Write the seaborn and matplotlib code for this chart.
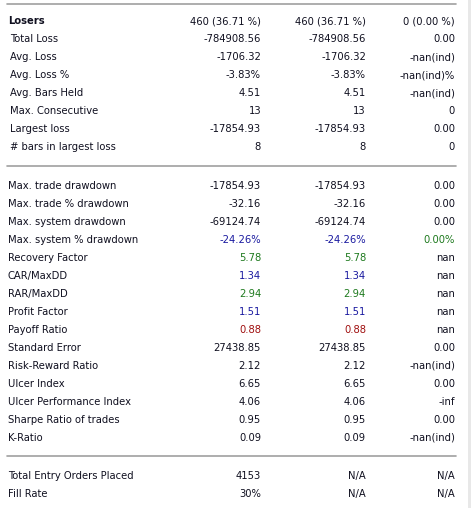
import seaborn as sns
import matplotlib.pyplot as plt

# Table content
section1_labels = ['Losers', 'Total Loss', 'Avg. Loss', 'Avg. Loss %', 'Avg. Bars Held',
                   'Max. Consecutive', 'Largest loss', '# bars in largest loss']
section1_all = ['460 (36.71 %)', '-784908.56', '-1706.32', '-3.83%', '4.51', '13', '-17854.93', '8']
section1_long = ['460 (36.71 %)', '-784908.56', '-1706.32', '-3.83%', '4.51', '13', '-17854.93', '8']
section1_short = ['0 (0.00 %)', '0.00', '-nan(ind)', '-nan(ind)%', '-nan(ind)', '0', '0.00', '0']

section2_labels = ['Max. trade drawdown', 'Max. trade % drawdown', 'Max. system drawdown',
                   'Max. system % drawdown', 'Recovery Factor', 'CAR/MaxDD', 'RAR/MaxDD',
                   'Profit Factor', 'Payoff Ratio', 'Standard Error', 'Risk-Reward Ratio',
                   'Ulcer Index', 'Ulcer Performance Index', 'Sharpe Ratio of trades', 'K-Ratio']
section2_all = ['-17854.93', '-32.16', '-69124.74', '-24.26%', '5.78', '1.34', '2.94', '1.51',
                '0.88', '27438.85', '2.12', '6.65', '4.06', '0.95', '0.09']
section2_long = ['-17854.93', '-32.16', '-69124.74', '-24.26%', '5.78', '1.34', '2.94', '1.51',
                 '0.88', '27438.85', '2.12', '6.65', '4.06', '0.95', '0.09']
section2_short = ['0.00', '0.00', '0.00', '0.00%', 'nan', 'nan', 'nan', 'nan', 'nan', '0.00',
                  '-nan(ind)', '0.00', '-inf', '0.00', '-nan(ind)']
section2_colors = ['k', 'k', 'k', 'blue', 'green', 'blue', 'green', 'blue', 'red',
                   'k', 'k', 'k', 'k', 'k', 'k']
section2_short_colors = ['k', 'k', 'k', 'green', 'k', 'k', 'k', 'k', 'k',
                         'k', 'k', 'k', 'k', 'k', 'k']

section3_labels = ['Total Entry Orders Placed', 'Fill Rate']
section3_all = ['4153', '30%']
section3_long = ['N/A', 'N/A']
section3_short = ['N/A', 'N/A']

palette = {'k': '#101020', 'blue': '#1a1aa0', 'green': '#1e7a1e', 'red': '#a01010'}

sns.set_theme(style='white')
plt.rcParams['font.family'] = ['DejaVu Sans']

fig = plt.figure(figsize=(4.71, 5.08), dpi=100)
ax = fig.add_axes([0, 0, 1, 1])
ax.set_xlim(0, 471)
ax.set_ylim(508, 0)
ax.axis('off')

fs = 7.2
col_x = [261, 366, 455]


def draw_rows(labels, cols, y0, colors=None, short_colors=None, label_x=8, bold_first=False):
    for i, lab in enumerate(labels):
        y = y0 + i * 18
        weight = 'bold' if (bold_first and i == 0) else 'normal'
        lx = label_x if (bold_first and i == 0) or not bold_first else label_x + 2
        ax.text(lx, y, lab, fontsize=fs, weight=weight, va='center', ha='left', color=palette['k'])
        for j, (cx, vals) in enumerate(zip(col_x, cols)):
            c = 'k'
            if j < 2 and colors is not None:
                c = colors[i]
            if j == 2 and short_colors is not None:
                c = short_colors[i]
            ax.text(cx, y, vals[i], fontsize=fs, va='center', ha='right', color=palette[c])


# separators and right border
for yy in [3.5, 165.5, 455.5]:
    sns.lineplot(x=[7, 456], y=[yy, yy], ax=ax, color='#a0a0a0', linewidth=1.2)
ax.axvspan(468, 471, color='#e8e8e8', lw=0)

draw_rows(section1_labels, [section1_all, section1_long, section1_short], 21, bold_first=True)
draw_rows(section2_labels, [section2_all, section2_long, section2_short], 186,
          colors=section2_colors, short_colors=section2_short_colors, label_x=8)
draw_rows(section3_labels, [section3_all, section3_long, section3_short], 476, label_x=8)

fig.savefig('out.png', dpi=100, facecolor='white')
